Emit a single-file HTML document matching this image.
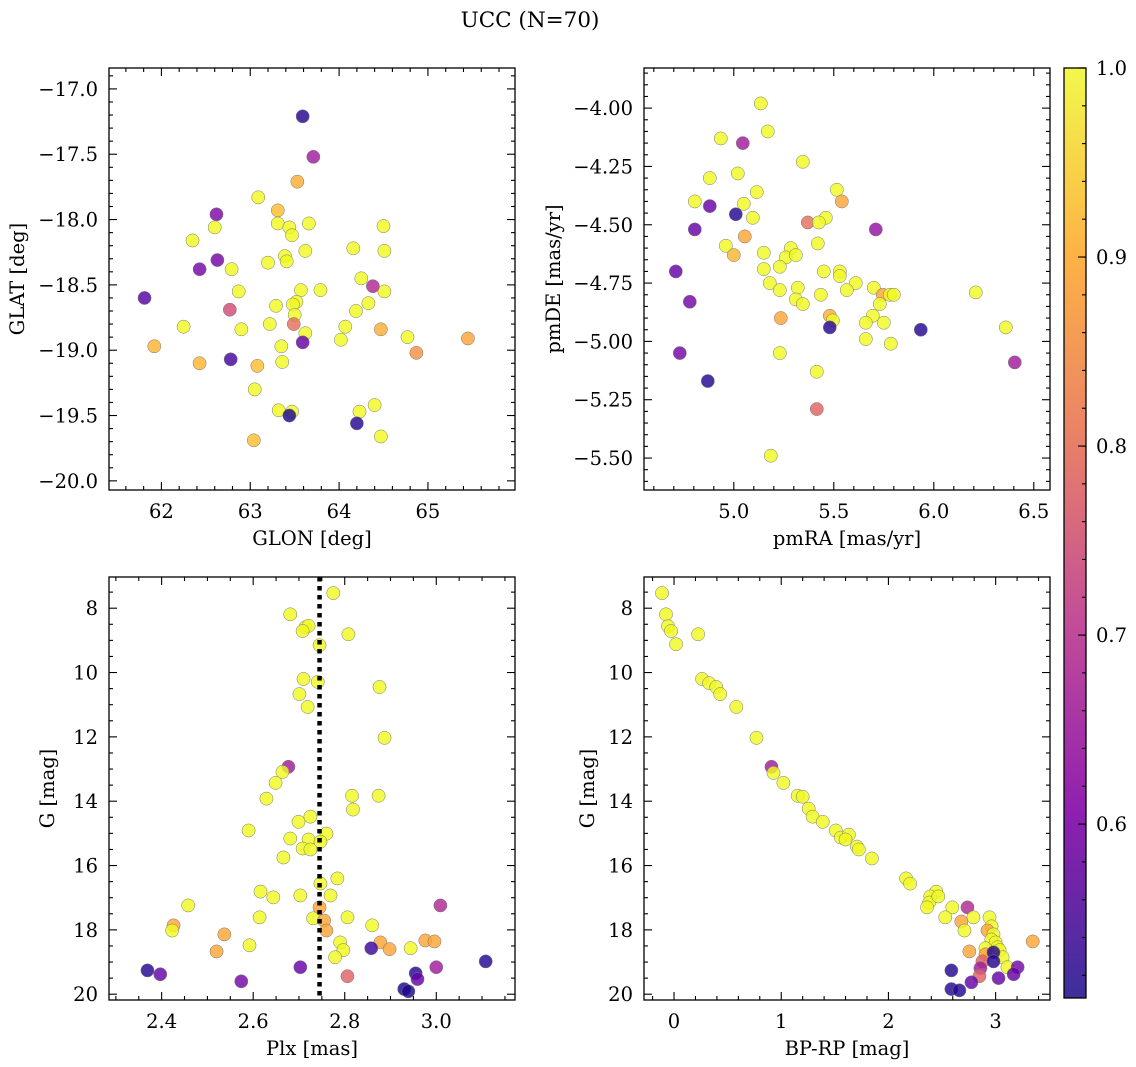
<!DOCTYPE html>
<html><head><meta charset="utf-8">
<style>
body{margin:0;background:#fff;}
svg{display:block;font-family:"DejaVu Serif","Liberation Serif",serif;}
</style></head>
<body>
<svg id="fig" width="1136" height="1067" viewBox="0 0 1136 1067" xmlns="http://www.w3.org/2000/svg">
<defs>
<linearGradient id="cbgrad" x1="0" y1="1" x2="0" y2="0">
<stop offset="0" stop-color="#3d2f9b"/><stop offset="0.2" stop-color="#8f1fb0"/><stop offset="0.4" stop-color="#c14c99"/><stop offset="0.6" stop-color="#e98068"/><stop offset="0.8" stop-color="#fdb344"/><stop offset="1" stop-color="#f2f84c"/>
</linearGradient>
</defs>
<text x="530" y="27" font-size="21.5" text-anchor="middle">UCC (N=70)</text>
</svg>
<script>
// ---- Panel 1: GLON vs GLAT ----
const p1_glon=[63.59,63.71,63.53,63.09,62.62,63.31,63.31,63.66,63.44,64.50,62.60,62.35,63.47,64.16,64.51,62.63,63.20,63.39,63.41,63.62,62.79,62.43,64.25,64.51,62.87,63.57,63.79,64.38,61.81,63.52,63.48,63.50,63.29,64.33,64.19,62.77,63.22,64.07,63.49,63.62,62.25,62.90,64.47,64.77,64.02,63.59,63.35,65.45,64.87,61.92,62.43,62.78,63.36,63.08,63.05,63.32,63.47,63.44,64.23,64.20,64.40,64.47,63.04];
const p1_glat=[-17.21,-17.52,-17.71,-17.83,-17.96,-17.93,-18.03,-18.03,-18.06,-18.05,-18.06,-18.16,-18.12,-18.22,-18.24,-18.31,-18.33,-18.28,-18.32,-18.24,-18.38,-18.38,-18.45,-18.55,-18.55,-18.54,-18.54,-18.51,-18.60,-18.63,-18.65,-18.73,-18.66,-18.64,-18.70,-18.69,-18.80,-18.82,-18.80,-18.87,-18.82,-18.84,-18.84,-18.90,-18.92,-18.94,-18.97,-18.91,-19.02,-18.97,-19.10,-19.07,-19.09,-19.12,-19.30,-19.46,-19.47,-19.50,-19.47,-19.56,-19.42,-19.66,-19.69];
const p1_prob=[0.53,0.68,0.91,1,0.63,0.93,1,1,1,1,1,1,1,1,1,0.62,1,1,1,1,1,0.62,1,1,1,1,1,0.7,0.58,1,1,1,1,1,1,0.76,1,1,0.82,1,1,1,0.91,1,1,0.6,1,0.9,0.87,0.92,0.92,0.56,1,0.93,1,1,1,0.52,1,0.53,1,1,0.93];
// ---- Panel 2: pmRA vs pmDE ----
const p2_pmra=[5.135,5.17,5.045,4.935,5.345,4.88,5.02,5.115,4.805,4.88,5.05,5.515,5.54,5.01,5.095,5.46,5.37,5.425,4.805,5.71,5.055,5.42,4.96,5.00,5.285,5.15,5.26,5.31,4.71,5.15,5.23,5.45,5.53,5.53,5.61,5.18,5.23,5.32,5.435,5.565,5.70,5.745,5.78,5.80,5.73,6.21,5.31,5.345,4.78,5.695,5.75,5.66,5.48,5.495,5.235,5.48,5.935,6.36,5.66,5.785,5.23,4.73,6.405,5.415,4.87,5.415,5.185];
const p2_pmde=[-3.98,-4.10,-4.15,-4.13,-4.23,-4.30,-4.28,-4.36,-4.40,-4.42,-4.41,-4.35,-4.40,-4.455,-4.47,-4.47,-4.49,-4.49,-4.52,-4.52,-4.55,-4.58,-4.59,-4.63,-4.60,-4.62,-4.64,-4.63,-4.70,-4.69,-4.68,-4.70,-4.70,-4.72,-4.75,-4.75,-4.78,-4.77,-4.80,-4.78,-4.77,-4.80,-4.80,-4.80,-4.84,-4.79,-4.82,-4.84,-4.83,-4.89,-4.92,-4.92,-4.89,-4.91,-4.90,-4.94,-4.95,-4.94,-4.99,-5.01,-5.05,-5.05,-5.09,-5.13,-5.17,-5.29,-5.49];
const p2_prob=[1,1,0.68,1,1,1,1,1,1,0.6,1,1,0.9,0.53,1,1,0.82,1,0.6,0.66,0.9,1,1,0.92,1,1,1,1,0.6,1,1,1,1,1,1,1,1,1,1,1,1,0.9,1,1,1,1,1,1,0.62,1,1,1,0.91,1,0.9,0.53,0.53,1,1,1,1,0.62,0.68,1,0.53,0.8,1];
// ---- Panel 3: Plx vs G ----
const p3_plx=[2.775,2.681,2.714,2.721,2.708,2.808,2.745,2.710,2.741,2.876,2.701,2.719,2.887,2.677,2.664,2.649,2.816,2.874,2.629,2.818,2.725,2.699,2.760,2.590,2.681,2.721,2.747,2.708,2.725,2.666,2.784,2.747,2.616,2.644,2.703,2.458,2.769,3.009,2.745,2.614,2.806,2.731,2.755,2.860,2.426,2.760,2.423,2.537,2.790,2.878,2.976,2.996,2.592,2.944,2.797,2.898,2.858,2.520,2.779,2.703,3.000,2.806,2.369,2.397,2.955,3.108,2.959,2.574,2.930,2.939];
const p3_g=[7.53,8.19,8.59,8.55,8.71,8.81,9.15,10.20,10.29,10.45,10.67,11.07,12.03,12.93,13.09,13.43,13.83,13.83,13.92,14.26,14.48,14.64,15.01,14.91,15.16,15.19,15.26,15.47,15.50,15.75,16.40,16.56,16.81,16.99,16.93,17.24,16.93,17.24,17.30,17.61,17.61,17.64,17.71,17.86,17.86,18.02,18.02,18.14,18.39,18.39,18.33,18.36,18.48,18.57,18.63,18.60,18.57,18.67,18.85,19.16,19.16,19.44,19.26,19.38,19.35,18.98,19.53,19.60,19.84,19.91];
const p3_prob=[1,1,1,1,1,1,1,1,1,1,1,1,1,0.68,1,1,1,1,1,1,1,1,1,1,1,1,1,1,1,1,1,1,1,1,1,1,1,0.7,0.9,1,1,1,0.9,1,0.9,0.9,1,0.9,1,0.9,0.9,0.9,1,1,1,0.9,0.55,0.9,1,0.6,0.68,0.8,0.53,0.6,0.53,0.53,0.6,0.62,0.52,0.52];
// ---- Panel 4: BP-RP vs G ----
const p4_bprp=[-0.112,-0.075,-0.056,-0.028,0.019,0.225,0.262,0.328,0.394,0.431,0.581,0.769,0.909,0.928,1.02,1.153,1.20,1.256,1.293,1.387,1.509,1.556,1.631,1.60,1.706,1.724,1.846,2.165,2.202,2.446,2.39,2.38,2.36,2.465,2.596,2.53,2.737,2.793,2.943,2.68,2.962,2.709,2.924,2.98,2.96,3.0,3.346,2.905,3.018,3.037,2.905,3.065,2.755,2.98,2.877,3.11,2.858,3.205,2.98,2.587,3.168,2.849,2.774,3.027,2.587,2.662];
const p4_g=[7.53,8.19,8.56,8.71,9.12,8.81,10.20,10.33,10.45,10.67,11.07,12.03,12.93,13.12,13.43,13.83,13.86,14.23,14.48,14.64,14.91,15.13,15.04,15.19,15.41,15.50,15.78,16.40,16.56,16.81,16.96,17.15,17.30,16.96,17.30,17.61,17.30,17.61,17.61,17.74,17.89,18.02,18.02,18.14,18.30,18.39,18.36,18.57,18.54,18.63,18.76,18.85,18.67,18.70,18.98,19.16,19.19,19.16,18.98,19.26,19.38,19.44,19.63,19.50,19.84,19.88];
const p4_prob=[1,1,1,1,1,1,1,1,1,1,1,1,0.68,1,1,1,1,1,1,1,1,1,1,1,1,1,1,1,1,1,1,1,1,1,1,1,0.7,1,1,0.9,1,1,0.9,1,1,1,0.9,1,1,1,0.9,1,0.9,0.53,0.8,1,0.68,0.62,0.53,0.53,0.6,0.8,0.6,0.6,0.53,0.53];
const cb_ticks=[0.6,0.7,0.8,0.9,1.0];
const cb_min=0.508, cb_max=1.0;

const NS="http://www.w3.org/2000/svg";
const svg=document.getElementById('fig');
const FS=19.5;
function mk(tag,attrs,parent){const e=document.createElementNS(NS,tag);for(const k in attrs)e.setAttribute(k,attrs[k]);(parent||svg).appendChild(e);return e;}

const stops=[[13,8,135],[65,4,157],[106,0,168],[143,13,164],[177,42,144],[204,71,120],[225,100,98],[242,132,75],[252,166,54],[252,206,37],[240,249,33]];
function plasma(v){let t=(v-cb_min)/(cb_max-cb_min);t=Math.max(0,Math.min(1,t));const f=t*10;const i=Math.min(9,Math.floor(f));const r=f-i;const a=stops[i],b=stops[i+1];return 'rgb('+[0,1,2].map(k=>Math.round(a[k]+(b[k]-a[k])*r)).join(',')+')';}

function fmt(v,d){const s=Math.abs(v).toFixed(d);return (v<-1e-9?'\u2212':'')+s;}

function panel(cfg){
  const g=mk('g',{});
  
  
  const sx=v=>cfg.L+(v-cfg.xmin)/(cfg.xmax-cfg.xmin)*(cfg.R-cfg.L);
  const sy=v=>cfg.T+(v-cfg.ytop)/(cfg.ybot-cfg.ytop)*(cfg.B-cfg.T);
  const pg=mk('g',{},g);
  
  
  for(let i=0;i<cfg.xs.length;i++){
    const c=mk('circle',{cx:sx(cfg.xs[i]),cy:sy(cfg.ys[i]),r:6.6,fill:plasma(cfg.cs[i]),'fill-opacity':0.82,stroke:'#777','stroke-width':0.5},pg);
    
    
  }
  if(cfg.vline!==undefined){
    const l=mk('line',{x1:sx(cfg.vline),x2:sx(cfg.vline),y1:cfg.T,y2:cfg.B,stroke:'#000','stroke-width':4.5,'stroke-dasharray':'4.5,4.5'},g);
    
    
  }
  const fr=mk('rect',{x:cfg.L,y:cfg.T,width:cfg.R-cfg.L,height:cfg.B-cfg.T,fill:'none',stroke:'#000','stroke-width':1.3},g);
  
  
  const eps=1e-6;
  const xminor=Math.ceil((cfg.xmin-eps)/cfg.xmn);
  for(let k=xminor;k*cfg.xmn<=cfg.xmax+eps;k++){
    const v=k*cfg.xmn;const isMaj=Math.abs(v/cfg.xmj-Math.round(v/cfg.xmj))<1e-6;const len=isMaj?8:4;const x=sx(v);
    mk('line',{x1:x,x2:x,y1:cfg.B,y2:cfg.B-len,stroke:'#000','stroke-width':1.1},g);
    mk('line',{x1:x,x2:x,y1:cfg.T,y2:cfg.T+len,stroke:'#000','stroke-width':1.1},g);
    if(isMaj){const t=mk('text',{x:x,y:cfg.B+28,'font-size':FS,'text-anchor':'middle'},g);t.textContent=fmt(v,cfg.xd);
      
      }
  }
  const ylo=Math.min(cfg.ytop,cfg.ybot),yhi=Math.max(cfg.ytop,cfg.ybot);
  for(let k=Math.ceil((ylo-eps)/cfg.ymn);k*cfg.ymn<=yhi+eps;k++){
    const v=k*cfg.ymn;const isMaj=Math.abs(v/cfg.ymj-Math.round(v/cfg.ymj))<1e-6;const len=isMaj?8:4;const y=sy(v);
    mk('line',{x1:cfg.L,x2:cfg.L+len,y1:y,y2:y,stroke:'#000','stroke-width':1.1},g);
    mk('line',{x1:cfg.R,x2:cfg.R-len,y1:y,y2:y,stroke:'#000','stroke-width':1.1},g);
    if(isMaj){const t=mk('text',{x:cfg.L-11,y:y+7,'font-size':FS,'text-anchor':'end'},g);t.textContent=fmt(v,cfg.yd);
      
      }
  }
  const xl=mk('text',{x:(cfg.L+cfg.R)/2,y:cfg.B+55,'font-size':FS,'text-anchor':'middle'},g);xl.textContent=cfg.xlab;
  
  
  const yx=cfg.ylx,yy=(cfg.T+cfg.B)/2;
  const yl=mk('text',{x:yx,y:yy,'font-size':FS,'text-anchor':'middle',transform:'rotate(-90 '+yx+' '+yy+')'},g);yl.textContent=cfg.ylab;
  
  
}

panel({name:'glon-glat-panel',L:109,R:515,T:68,B:490,xmin:61.41,xmax:65.98,ytop:-16.84,ybot:-20.07,xmj:1,xmn:0.2,ymj:0.5,ymn:0.1,xd:0,yd:1,xs:p1_glon,ys:p1_glat,cs:p1_prob,xlab:'GLON [deg]',ylab:'GLAT [deg]',ylx:24});
panel({name:'pm-panel',L:644,R:1050,T:68,B:490,xmin:4.551,xmax:6.581,ytop:-3.828,ybot:-5.637,xmj:0.5,xmn:0.1,ymj:0.25,ymn:0.05,xd:1,yd:2,xs:p2_pmra,ys:p2_pmde,cs:p2_prob,xlab:'pmRA [mas/yr]',ylab:'pmDE [mas/yr]',ylx:560});
panel({name:'plx-g-panel',L:109,R:515,T:577,B:1000,xmin:2.285,xmax:3.172,ytop:7.03,ybot:20.18,xmj:0.2,xmn:0.05,ymj:2,ymn:0.5,xd:1,yd:0,xs:p3_plx,ys:p3_g,cs:p3_prob,xlab:'Plx [mas]',ylab:'G [mag]',ylx:54,vline:2.745});
panel({name:'cmd-panel',L:644,R:1050,T:577,B:1000,xmin:-0.28,xmax:3.507,ytop:7.03,ybot:20.18,xmj:1,xmn:0.2,ymj:2,ymn:0.5,xd:0,yd:0,xs:p4_bprp,ys:p4_g,cs:p4_prob,xlab:'BP-RP [mag]',ylab:'G [mag]',ylx:594});

(function(){
  const L=1064,R=1086,T=68,B=998;
  const g=mk('g',{});
  
  
  const r=mk('rect',{x:L,y:T,width:R-L,height:B-T,fill:'url(#cbgrad)',stroke:'#000','stroke-width':1.3},g);
  
  
  const sy=v=>B-(v-cb_min)/(cb_max-cb_min)*(B-T);
  for(let k=26;k<=50;k++){const v=k*0.02;const y=sy(v);if(y<T-0.5)continue;
    mk('line',{x1:R,x2:R-4,y1:y,y2:y,stroke:'#000','stroke-width':1.1},g);}
  cb_ticks.forEach(v=>{const y=sy(v);
    mk('line',{x1:R,x2:R-8,y1:y,y2:y,stroke:'#000','stroke-width':1.1},g);
    const t=mk('text',{x:R+10,y:y+7,'font-size':FS},g);t.textContent=v.toFixed(1);
    
    
  });
})();
</script>
</body></html>
